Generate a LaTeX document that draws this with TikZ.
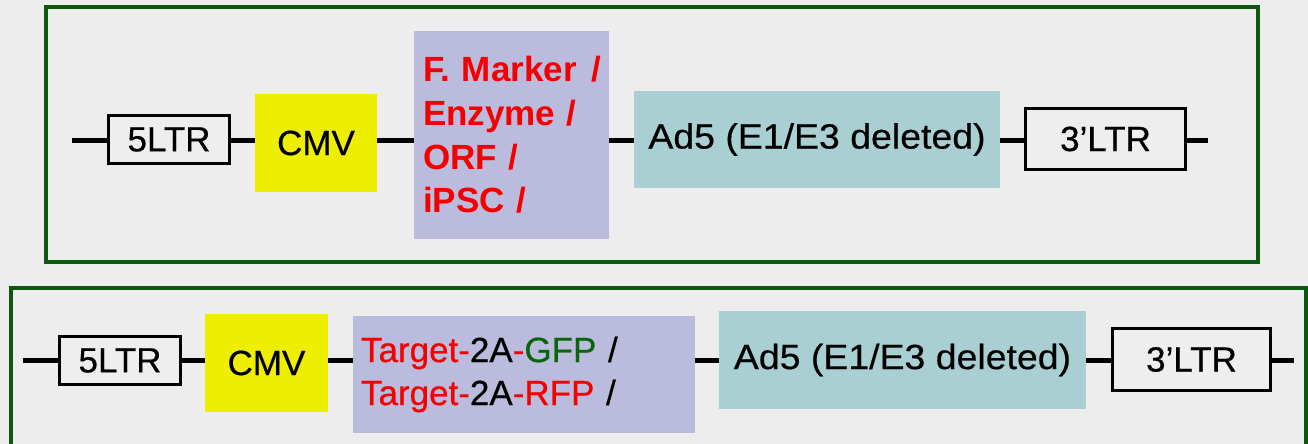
\documentclass[tikz,border=0pt]{standalone}
\usepackage{fontspec}
\setmainfont{Liberation Sans}
\newfontfamily\thickfont[FakeBold=0.5]{Liberation Sans}
\newfontfamily\widefont[FakeStretch=1.07,FakeBold=0.5]{Liberation Sans}
\definecolor{bgcol}{RGB}{237,237,237}
\definecolor{ltrfill}{RGB}{238,238,238}
\definecolor{framegreen}{RGB}{12,88,12}
\definecolor{cmvyellow}{RGB}{238,238,0}
\definecolor{orfpurple}{RGB}{187,188,221}
\definecolor{adteal}{RGB}{169,207,210}
\definecolor{fred}{RGB}{245,0,0}
\definecolor{gfpgreen}{RGB}{10,100,10}
\begin{document}
\begin{tikzpicture}[x=1pt,y=-1pt,
  base/.style={inner sep=0pt, font=\thickfont\fontsize{35}{42}\selectfont, text=black},
  ltrbox/.style={base, draw=black, line width=3.5pt, fill=ltrfill},
  cmvbox/.style={base, fill=cmvyellow},
  orfbox/.style={base, fill=orfpurple, align=left},
  adbox/.style={base, fill=adteal, font=\widefont\fontsize{35}{42}\selectfont},
  link/.style={line width=5pt},
  frame/.style={draw=framegreen, line width=3.5pt}]
\useasboundingbox (0,0) rectangle (1308,444);
\fill[bgcol] (0,0) rectangle (1308,444);
% frames
\draw[frame] (46,7) rectangle (1258,262);
\draw[frame] (11,450) -- (11,288) -- (1306,288) -- (1306,450);
% top row
\coordinate (ta) at (72,140);
\coordinate (tz) at (1208,140);
\node[ltrbox, minimum width=121pt, minimum height=48pt] (tltr5) at (169,139.5) {5LTR};
\node[cmvbox, minimum width=122pt, minimum height=98pt] (tcmv) at (316,143) {CMV};
\node[orfbox, text width=177pt, inner xsep=9pt, minimum width=195pt, minimum height=208pt,
      font=\normalfont\fontsize{35}{43.7}\selectfont\bfseries, text=fred] (torf) at (511.5,135)
  {\makebox[0pt][l]{F. Marker\hspace{3pt} /}\\Enzyme /\\ORF /\\iPSC /};
\node[adbox, minimum width=366pt, minimum height=97pt] (tad) at (817,139.5) {Ad5 (E1/E3 deleted)};
\node[ltrbox, minimum width=160pt, minimum height=61pt] (tltr3) at (1105.5,139) {3’LTR};
\draw[link] (ta) -- (tltr5.west |- ta);
\draw[link] (tltr5.east |- ta) -- (tcmv.west |- ta);
\draw[link] (tcmv.east |- ta) -- (torf.west |- ta);
\draw[link] (torf.east |- ta) -- (tad.west |- ta);
\draw[link] (tad.east |- ta) -- (tltr3.west |- ta);
\draw[link] (tltr3.east |- ta) -- (tz);
% bottom row
\coordinate (ba) at (23,360);
\coordinate (bz) at (1294,360);
\node[ltrbox, minimum width=121pt, minimum height=48pt] (bltr5) at (120,360.5) {5LTR};
\node[cmvbox, minimum width=123pt, minimum height=98pt] (bcmv) at (266.5,363) {CMV};
\node[orfbox, text width=326pt, inner xsep=8pt, minimum width=342pt, minimum height=117pt,
      font=\thickfont\fontsize{35}{43}\selectfont] (borf) at (524,374.5)
  {\textcolor{fred}{Target-}2A\textcolor{fred}{-}\textcolor{gfpgreen}{GFP} /\\
   \textcolor{fred}{Target-}2A\textcolor{fred}{-RFP} /};
\node[adbox, minimum width=367pt, minimum height=98pt] (bad) at (902.5,360) {Ad5 (E1/E3 deleted)};
\node[ltrbox, minimum width=158pt, minimum height=62pt] (bltr3) at (1191.5,359.5) {3’LTR};
\draw[link] (ba) -- (bltr5.west |- ba);
\draw[link] (bltr5.east |- ba) -- (bcmv.west |- ba);
\draw[link] (bcmv.east |- ba) -- (borf.west |- ba);
\draw[link] (borf.east |- ba) -- (bad.west |- ba);
\draw[link] (bad.east |- ba) -- (bltr3.west |- ba);
\draw[link] (bltr3.east |- ba) -- (bz);
\end{tikzpicture}
\end{document}
